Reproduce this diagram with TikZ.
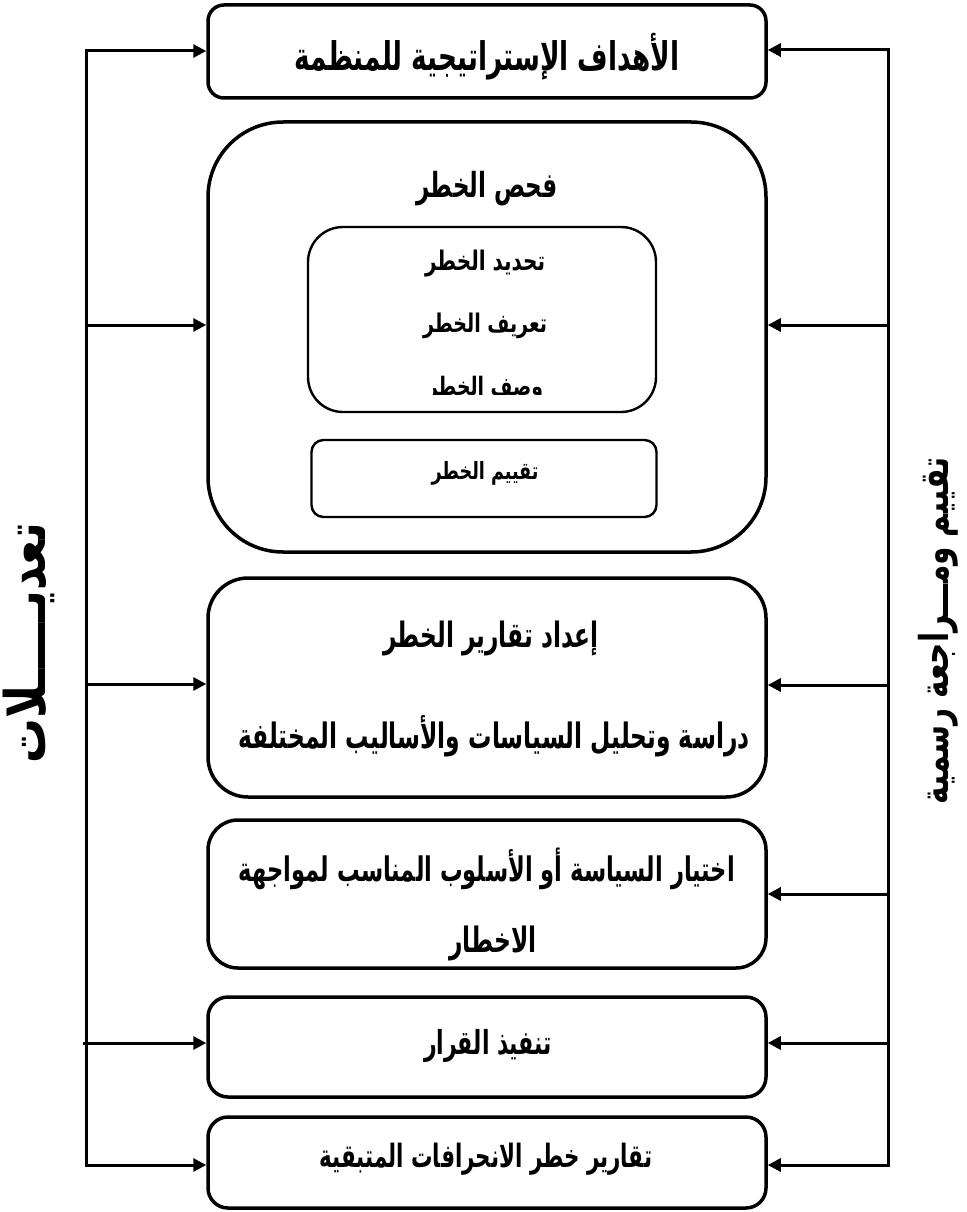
\documentclass[tikz,border=0pt]{standalone}
\usepackage{fontspec}
\usepackage{graphicx}
\newfontfamily\arabicfont[Script=Arabic]{DejaVu Sans}
\TeXXeTstate=1
\usetikzlibrary{arrows.meta}
\newcommand{\fitar}[3][1.5]{\scalebox{1}[#1]{\resizebox{#2}{!}{\arabicfont\bfseries #3}}}
\tikzset{
  box/.style={draw, line width=3.5pt, rounded corners=#1, inner sep=0pt, minimum width=558pt},
  inbox/.style={draw, line width=2.4pt, rounded corners=#1, inner sep=0pt},
  txt/.style={inner sep=0pt, anchor=center},
  arr/.style={line width=3pt, -{Triangle[length=13pt,width=13pt]}},
}
\begin{document}
\begin{tikzpicture}[x=1pt,y=-1pt]
\useasboundingbox (0,0) rectangle (966,1212);
% boxes
\node[box=16pt, minimum height=93pt] (b1) at (487,51.5) {};
\node[box=75pt, minimum height=430pt] (b2) at (487,337) {};
\node[box=40pt, minimum height=219pt] (b3) at (487,687.5) {};
\node[box=30pt, minimum height=148pt] (b4) at (487,894) {};
\node[box=20pt, minimum height=100pt] (b5) at (487,1047) {};
\node[box=20pt, minimum height=91pt] (b6) at (487,1162.5) {};
\node[inbox=35pt, minimum width=348pt, minimum height=185pt] (i1) at (482,319.5) {};
\node[inbox=12pt, minimum width=345pt, minimum height=77pt] (i2) at (484,478.5) {};
% texts
\node[txt] (t1) at (487,57) {\fitar{385pt}{\beginR الأهداف الإستراتيجية للمنظمة\endR}};
\node[txt] (t2) at (487,189) {\fitar{141pt}{\beginR فحص الخطر\endR}};
\node[txt] (t3) at (485,264) {\fitar[1.35]{120pt}{\beginR تحديد الخطر\endR}};
\node[txt] (t4) at (485,326) {\fitar[1.35]{124pt}{\beginR تعريف الخطر\endR}};
\begin{scope}
\clip (300,360) rectangle (670,394);
\node[txt] (t5) at (485,389) {\fitar[1.35]{116pt}{\beginR وصف الخطر\endR}};
\end{scope}
\node[txt] (t6) at (485,473) {\fitar[1.35]{107pt}{\beginR تقييم الخطر\endR}};
\node[txt] (t7) at (491,638) {\fitar{215pt}{\beginR إعداد تقارير الخطر\endR}};
\node[txt] (t8) at (494,736) {\fitar{511pt}{\beginR دراسة وتحليل السياسات والأساليب المختلفة\endR}};
\node[txt] (t9) at (487,869) {\fitar{496pt}{\beginR اختيار السياسة أو الأسلوب المناسب لمواجهة\endR}};
\node[txt] (t10) at (493,943) {\fitar{87pt}{\beginR الاخطار\endR}};
\node[txt] (t11) at (488,1046) {\fitar{128pt}{\beginR تنفيذ القرار\endR}};
\node[txt] (t12) at (486,1159) {\fitar{333pt}{\beginR تقارير خطر الانحرافات المتبقية\endR}};
\node[txt, rotate=90] (lab1) at (29,643) {\fitar[1.25]{240pt}{\beginR تعديـــــلات\endR}};
\node[txt, rotate=90] (lab2) at (938,631) {\fitar[1.35]{347pt}{\beginR تقييم ومـــراجعة رسمية\endR}};
% left feedback line
\coordinate (L1) at (86,51);
\coordinate (L2) at (86,325);
\coordinate (L3) at (86,684);
\coordinate (L5) at (83,1043);
\coordinate (L6) at (86,1165);
\draw[arr] (L6) -- (L1) -- (L1 -| b1.west);
\draw[arr] (L1) -- (L6) -- (L6 -| b6.west);
\draw[arr] (L2) -- (L2 -| b2.west);
\draw[arr] (L3) -- (L3 -| b3.west);
\draw[arr] (L5) -- (L5 -| b5.west);
% right feedback line
\coordinate (R1) at (888,50);
\coordinate (R2) at (888,325);
\coordinate (R3) at (888,685);
\coordinate (R4) at (888,894);
\coordinate (R5) at (888,1043);
\coordinate (R6) at (888,1165);
\draw[arr] (R6) -- (R1) -- (R1 -| b1.east);
\draw[arr] (R1) -- (R6) -- (R6 -| b6.east);
\draw[arr] (R2) -- (R2 -| b2.east);
\draw[arr] (R3) -- (R3 -| b3.east);
\draw[arr] (R4) -- (R4 -| b4.east);
\draw[arr] (R5) -- (R5 -| b5.east);
\end{tikzpicture}
\end{document}
